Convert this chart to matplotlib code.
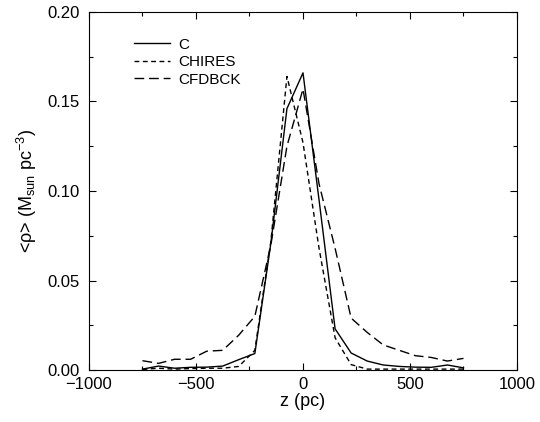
import matplotlib
matplotlib.use("Agg")
import matplotlib.pyplot as plt
from matplotlib.ticker import MultipleLocator

plt.rcParams['font.family'] = ['Liberation Sans', 'DejaVu Sans']
plt.rcParams['mathtext.fontset'] = 'custom'
plt.rcParams['mathtext.rm'] = 'Liberation Sans'
plt.rcParams['mathtext.it'] = 'Liberation Sans'

z = [-750, -675, -600, -525, -450, -375, -300, -225, -150, -75, 0,
     75, 150, 225, 300, 375, 450, 525, 600, 675, 750]
rho_C = [0.0005, 0.0022, 0.0010, 0.0015, 0.0016, 0.0022, 0.0058, 0.0092, 0.071, 0.146, 0.166,
         0.095, 0.023, 0.0095, 0.0050, 0.0028, 0.0020, 0.0016, 0.0015, 0.0028, 0.0012]
rho_CHIRES = [0.0003, 0.0010, 0.0005, 0.0008, 0.0010, 0.0010, 0.0020, 0.011, 0.072, 0.164, 0.127,
              0.068, 0.018, 0.0030, 0.0005, 0.0005, 0.0005, 0.0005, 0.0005, 0.0005, 0.0005]
rho_CFDBCK = [0.0052, 0.0037, 0.0060, 0.0060, 0.0105, 0.0110, 0.0195, 0.030, 0.070, 0.125, 0.157,
              0.104, 0.068, 0.029, 0.021, 0.014, 0.011, 0.008, 0.007, 0.005, 0.0065]

fig = plt.figure(figsize=(5.40, 4.22), dpi=100)
ax = fig.add_axes([0.1648, 0.1232, 0.7926, 0.8484])

ax.plot(z, rho_C, color='black', lw=1.0, label='C')
ax.plot(z, rho_CHIRES, color='black', lw=1.0, dashes=(3.5, 2.5), label='CHIRES')
ax.plot(z, rho_CFDBCK, color='black', lw=1.0, dashes=(7, 3.5), label='CFDBCK')

ax.set_xlim(-1000, 1000)
ax.set_ylim(0, 0.20)
ax.xaxis.set_major_locator(MultipleLocator(500))
ax.xaxis.set_minor_locator(MultipleLocator(250))
ax.yaxis.set_major_locator(MultipleLocator(0.05))
ax.yaxis.set_minor_locator(MultipleLocator(0.025))
ax.yaxis.set_major_formatter(matplotlib.ticker.FormatStrFormatter('%.2f'))
ax.xaxis.set_major_formatter(matplotlib.ticker.FuncFormatter(
    lambda v, p: ('\u2212%d' % abs(v)) if v < 0 else '%d' % v))
ax.tick_params(which='both', direction='in', top=True, right=True, labelsize=12, width=0.8)
ax.tick_params(which='major', length=5)
ax.tick_params(which='minor', length=3)
ax.tick_params(axis='x', which='major', pad=5)
ax.tick_params(axis='y', which='major', pad=7)
for s in ax.spines.values():
    s.set_linewidth(0.8)

ax.set_xlabel('z (pc)', fontsize=13, labelpad=1)
ax.set_ylabel(r'<ρ> (M$_{\rm sun}$ pc$^{-3}$)', fontsize=13, labelpad=6)

ax.legend(loc='upper left', bbox_to_anchor=(0.09, 0.945), frameon=False, fontsize=11,
          handlelength=2.4, handletextpad=0.5, labelspacing=0.22, borderaxespad=0)

fig.savefig('out.png', dpi=100)
